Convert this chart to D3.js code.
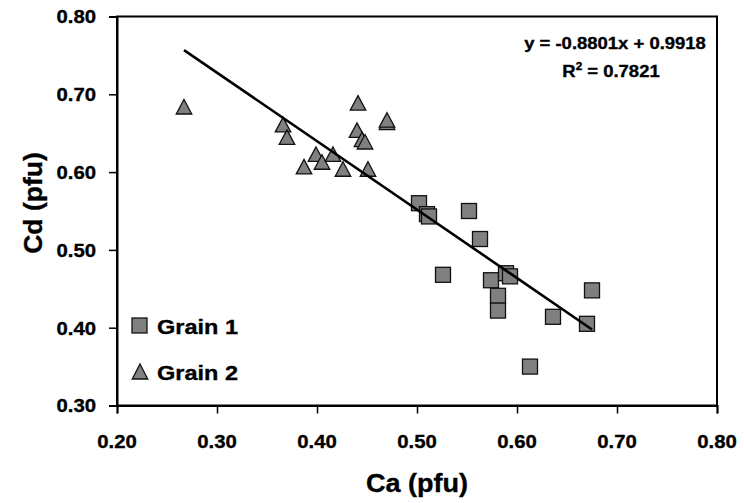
<!DOCTYPE html>
<html>
<head>
<meta charset="utf-8">
<script src="https://cdn.jsdelivr.net/npm/d3@7"></script>
<style>
  html, body { margin: 0; padding: 0; background: #fff; }
  svg { display: block; }
  text { font-family: "Liberation Sans", Arial, Helvetica, sans-serif; font-weight: bold; fill: #000; stroke: #000; stroke-width: 0.35px; }
</style>
</head>
<body>
<svg id="chart" width="744" height="503"></svg>
<script>
// ---------------- data ----------------
const grain1Ca = [0.502, 0.510, 0.512, 0.552, 0.563, 0.526, 0.574, 0.589, 0.593, 0.581, 0.581, 0.636, 0.675, 0.670, 0.613];
const grain1Cd = [0.560, 0.546, 0.543, 0.550, 0.514, 0.468, 0.461, 0.470, 0.466, 0.441, 0.422, 0.414, 0.448, 0.405, 0.350];

const grain2Ca = [0.267, 0.366, 0.370, 0.399, 0.387, 0.405, 0.416, 0.426, 0.441, 0.440, 0.445, 0.448, 0.470, 0.470, 0.451];
const grain2Cd = [0.684, 0.661, 0.645, 0.623, 0.607, 0.613, 0.623, 0.604, 0.689, 0.654, 0.642, 0.639, 0.664, 0.667, 0.604];

const seriesNames = ["Grain 1", "Grain 2"];
const xTicks = [0.20, 0.30, 0.40, 0.50, 0.60, 0.70, 0.80];
const yTicks = [0.30, 0.40, 0.50, 0.60, 0.70, 0.80];
const trendSlope = -0.8801;
const trendIntercept = 0.9918;
const equationText = "y = -0.8801x + 0.9918";
const r2Value = "0.7821";
const xTitle = "Ca (pfu)";
const yTitle = "Cd (pfu)";

// ---------------- layout ----------------
const L = 117, R = 717, T = 16.5, B = 405.5;
const x = d3.scaleLinear().domain([0.20, 0.80]).range([L, R]);
const y = d3.scaleLinear().domain([0.30, 0.80]).range([B, T]);
const fmt = d3.format(".2f");
const svg = d3.select("#chart");

function label(parent, px, py, str, size, anchor, sx, rot) {
  const g = parent.append("g")
    .attr("transform", `translate(${px},${py})` + (rot ? ` rotate(${rot})` : "") + ` scale(${sx},1)`);
  return g.append("text").attr("text-anchor", anchor).attr("font-size", size).text(str);
}

// plot frame
svg.append("rect").attr("x", L).attr("y", T).attr("width", R - L).attr("height", B - T)
  .attr("fill", "none").attr("stroke", "#000").attr("stroke-width", 2);

// axes (ticks via d3 axis)
const xAxis = svg.append("g").attr("transform", `translate(0,${B})`)
  .call(d3.axisBottom(x).tickValues(xTicks).tickSize(8).tickFormat(""));
const yAxis = svg.append("g").attr("transform", `translate(${L},0)`)
  .call(d3.axisLeft(y).tickValues(yTicks).tickSize(8).tickFormat(""));
[xAxis, yAxis].forEach(a => {
  a.select(".domain").attr("stroke", "#000").attr("stroke-width", 2);
  a.selectAll(".tick line").attr("stroke", "#000").attr("stroke-width", 1.5);
});

// tick labels
xTicks.forEach(v => label(svg, x(v), 448, fmt(v), 19, "middle", 1.07));
yTicks.forEach(v => label(svg, L - 21, y(v) + 6.8, fmt(v), 19, "end", 1.07));

// axis titles
label(svg, 417, 492, xTitle, 25.5, "middle", 1.06);
label(svg, 42, 203, yTitle, 25.5, "middle", 1.04, -90);

// markers
const sq = 15;
const fillGrey = "#808080";
function triPath(cx, cy, w, h) {
  return `M${cx},${cy - h / 2}L${cx + w / 2},${cy + h / 2}L${cx - w / 2},${cy + h / 2}Z`;
}

const g1 = grain1Ca.map((v, i) => ({ ca: v, cd: grain1Cd[i] }));
const g2 = grain2Ca.map((v, i) => ({ ca: v, cd: grain2Cd[i] }));

svg.append("g").selectAll("rect").data(g1).join("rect")
  .attr("x", d => x(d.ca) - sq / 2).attr("y", d => y(d.cd) - sq / 2)
  .attr("width", sq).attr("height", sq)
  .attr("fill", fillGrey).attr("stroke", "#111").attr("stroke-width", 1.3);

svg.append("g").selectAll("path").data(g2).join("path")
  .attr("d", d => triPath(x(d.ca), y(d.cd), 15.5, 14.5))
  .attr("fill", fillGrey).attr("stroke", "#111").attr("stroke-width", 1.3)
  .attr("stroke-linejoin", "miter");

// trendline over the x extent of all data
const allCa = grain1Ca.concat(grain2Ca);
const [xMin, xMax] = d3.extent(allCa);
svg.append("line")
  .attr("x1", x(xMin)).attr("y1", y(trendSlope * xMin + trendIntercept))
  .attr("x2", x(xMax)).attr("y2", y(trendSlope * xMax + trendIntercept))
  .attr("stroke", "#000").attr("stroke-width", 2.6);

// equation
label(svg, 615, 49, equationText, 16.5, "middle", 1.12);
const r2 = label(svg, 611, 76.5, "", 16.5, "middle", 1.12);
r2.append("tspan").text("R");
r2.append("tspan").attr("font-size", 10.5).attr("dy", -7).text("2");
r2.append("tspan").attr("dy", 7).text(" = " + r2Value);

// legend
const legY = [325.5, 371.5];
svg.append("rect").attr("x", 139.5 - sq / 2).attr("y", legY[0] - sq / 2)
  .attr("width", sq).attr("height", sq)
  .attr("fill", fillGrey).attr("stroke", "#111").attr("stroke-width", 1.3);
svg.append("path").attr("d", triPath(140, legY[1], 15.5, 15))
  .attr("fill", fillGrey).attr("stroke", "#111").attr("stroke-width", 1.3);
seriesNames.forEach((n, i) => label(svg, 157, legY[i] + 8.5, n, 21, "start", 1.12));
</script>
</body>
</html>
